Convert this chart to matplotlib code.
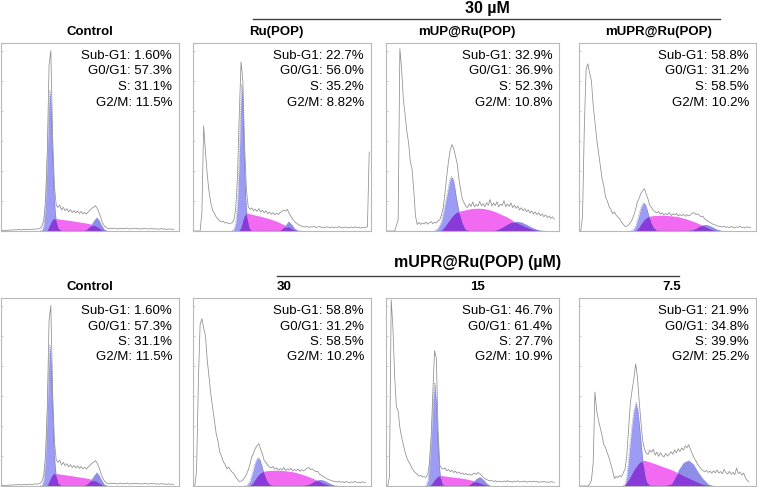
import numpy as np
import matplotlib.pyplot as plt
from matplotlib.lines import Line2D

plt.rcParams['font.family'] = ['Liberation Sans', 'DejaVu Sans']

W, H = 757, 487

phases = ['Sub-G1', 'G0/G1', 'S', 'G2/M']

# gray DNA histograms, % of full scale, one value per channel bin
control_counts = [0.2, 0.3, 0.4, 0.3, 0.5, 0.4, 0.6, 0.5, 0.7, 0.6, 0.8, 0.6, 0.7, 0.9, 0.7, 0.8, 1.0, 0.8, 0.9, 1.1, 1.0, 1.2,
                  1.5, 2.6, 5.5, 16, 42, 88, 96, 50, 24, 14,
                  12.5, 13.8, 11.2, 12.6, 10.8, 11.9, 10.2, 11.4, 9.8, 10.9, 9.6, 10.7, 9.3, 10.4, 9.1, 9.9, 9.0, 10.2,
                  11.0, 12.1, 12.6, 13.5, 12.2, 10.0, 7.2, 4.5, 2.8, 1.8,
                  1.4, 1.1, 1.5, 1.2, 1.6, 1.0, 1.3, 1.5, 1.1, 1.4, 1.2, 1.6, 1.0, 1.3, 1.1, 1.5, 1.2, 1.4, 1.0, 1.3,
                  1.1, 1.5, 1.2, 1.0, 1.4, 1.1, 1.3, 1.0, 1.2, 0.9, 1.3, 1.0, 1.1, 0.8, 1.2, 0.9, 1.0, 0.8]
rupop_counts = [0, 0, 0, 0, 0,
                10, 56, 42, 30, 21, 15, 11, 9.5, 7.5, 6.5, 5.4, 4.8, 5.1, 4.2, 4.6, 3.8, 4.1, 4.4, 6.0, 12, 29,
                62, 90, 80, 45, 22, 13,
                11.5, 12.3, 10.8, 11.6, 10.4, 11.9, 10.1, 11.0, 9.6, 10.8, 9.2, 10.1, 8.9, 9.8, 8.6, 9.5, 8.8,
                9.9, 10.4, 11.2, 10.6, 11.5, 9.4, 7.8, 6.2, 5.1, 4.2, 3.6, 3.0, 2.6, 2.4,
                2.1, 2.5, 1.9, 2.3, 2.0, 2.6, 1.8, 2.2, 2.4, 1.9, 2.1, 1.7, 2.3, 2.0, 1.8, 2.2, 1.6, 2.1, 1.9, 2.4,
                1.7, 2.0, 1.8, 2.2, 1.6, 1.9, 2.1, 1.7, 2.3, 1.8, 2.0, 1.6, 1.9, 1.7, 2.0, 2.2, 42]
mup_counts = [0, 0, 0, 0, 0, 0,
              3, 6, 97, 86, 70, 62, 53, 47, 37, 33, 22, 8,
              3.5, 4.6, 3.5, 4.2, 3.8, 4.8, 3.6, 4.4, 5.0, 3.9, 4.7, 4.2, 5.3, 6.0,
              8.5, 12.5, 20, 29, 37, 43, 46, 44, 40, 36, 28, 22, 17, 15, 13,
              12.5, 14.5, 13, 15.5, 12.8, 14.2, 13.1, 15.8, 13.4, 14.6, 12.9, 15.1, 13.7, 16.8, 13.2, 14.9,
              13.5, 15.6, 12.8, 14.3, 13.6, 16.2, 12.9, 14.4, 13.1, 15.0, 12.4, 13.8, 12.1, 13.3,
              11.2, 12.4, 10.8, 11.9, 10.2, 11.3, 9.6, 10.7, 9.1, 10.2, 8.7, 9.8, 8.2, 9.0, 7.6, 8.6, 7.1, 8.0,
              6.8, 7.5, 6.2]
mupr30_counts = [0, 0, 8, 55, 86, 89, 84, 80, 67, 58, 49, 42, 35, 28, 24, 18, 16, 13, 11.5, 9.2, 10.1, 8.4,
                 7.4, 6.5, 4.8, 3.6, 2.4, 2.6, 3.2, 4.6, 6.0, 8.5, 11.5, 15.5, 17.5, 20, 21.5, 22.5, 19.5, 17,
                 13.5, 12.5, 11, 10.2, 9.6, 10.4, 8.9, 9.7, 8.4, 9.3, 8.6, 9.9, 8.2, 9.1, 8.5, 9.4, 7.9, 8.8,
                 8.1, 9.0, 7.8, 8.7, 8.0, 8.6, 9.5, 9.8, 8.7, 9.1, 8.3, 7.6, 7.9, 6.4, 5.8, 5.1, 4.6, 4.0, 3.4,
                 3.2, 2.8, 2.5, 2.4, 2.1, 2.6, 1.9, 2.3, 1.8, 2.4, 2.0, 1.7, 2.2, 1.9, 2.5, 1.8, 2.1, 1.6, 2.3,
                 1.9, 2.0]
mupr15_counts = [0, 0, 5, 99, 84, 58, 42, 40, 31, 26, 22, 18, 15, 13, 11.5, 9.5, 8, 7, 6.2, 5.3, 5.6, 4.7,
                 5.0, 4.5, 6.0, 12, 26, 50, 72, 68, 30, 11,
                 9.5, 9.0, 9.6, 8.1, 8.8, 7.6, 8.4, 7.2, 7.9, 6.8, 7.5, 6.4, 7.0, 6.1, 6.7, 5.9, 6.4, 5.7, 6.3,
                 6.9, 6.1, 7.2, 6.6, 5.8, 4.6, 3.9, 3.4, 3.0, 2.7,
                 2.9, 2.4, 2.8, 2.2, 2.6, 2.5, 2.1, 2.7, 2.3, 2.9, 2.2, 2.5, 2.0, 2.6, 2.3, 2.8, 2.1, 2.4, 2.2,
                 2.7, 2.0, 2.3, 2.5, 2.1, 2.6, 2.2, 2.4, 1.9, 2.3, 2.1, 2.5, 2.0, 2.2, 1.9, 2.4, 2.1, 2.0]
mupr75_counts = [0, 0, 0, 0, 0, 0, 1, 3, 12, 50, 40, 35, 31, 27, 22, 20.5, 17.5, 15, 11.5, 8, 4,
                 5.2, 4.4, 5.6, 4.8, 7, 9, 16, 30, 44, 51, 57, 65, 58, 45, 34, 24,
                 19.5, 17.5, 16.8, 19.2, 17.9, 19.6, 16.4, 18.1, 15.8, 17.7, 16.2, 15.5, 17.4, 15.9, 16.8,
                 18.3, 16.9, 19.1, 17.6, 19.8, 18.4, 20.2, 19.1, 21.3, 20.4, 22.0, 19.3, 17.2, 15.1, 13.4,
                 11.6, 10.2, 9.1, 8.2, 7.6, 8.3, 7.2, 7.9, 6.8, 8.1, 7.0, 8.6, 6.9, 7.7, 6.5, 8.9, 7.1, 6.4,
                 7.8, 6.2, 7.3, 6.0, 9.5, 6.6, 7.4, 5.8, 6.9, 4.5, 3.0, 2.2]

# fitted components: channel position, G0/G1, S and G2/M heights
control_fit_x = [22, 23, 24, 25, 26, 26.8, 27.5, 28.2, 29, 30, 31, 32, 34, 38, 42, 46, 48, 50, 52, 53.7, 55, 56.5, 58, 60]
control_g1 = [0, 0.5, 3, 14, 40, 65, 75, 65, 40, 16, 5, 1.5, 0, 0, 0, 0, 0, 0, 0, 0, 0, 0, 0, 0]
control_s = [0, 0, 0, 0, 0.5, 2, 3.5, 5, 6.2, 6.8, 6.7, 6.5, 6.2, 5.7, 5.1, 4.5, 4.2, 3.8, 3.1, 2.4, 1.6, 0.7, 0.1, 0]
control_g2 = [0, 0, 0, 0, 0, 0, 0, 0, 0, 0, 0, 0, 0, 0, 0, 0, 0.8, 2.5, 5.5, 7.5, 6.0, 3.2, 1.0, 0]

rupop_fit_x = [22, 23, 24, 25, 26, 26.7, 27.4, 28.1, 28.8, 29.6, 30.5, 31.5, 33, 38, 43, 47, 49, 51, 53.6, 55.5, 57, 59, 61]
rupop_g1 = [0, 1, 4, 15, 40, 66, 78, 66, 40, 18, 6, 1.5, 0, 0, 0, 0, 0, 0, 0, 0, 0, 0, 0]
rupop_s = [0, 0, 0, 0, 0.5, 1.5, 3.5, 6, 8, 9.3, 9.5, 9.3, 8.9, 7.8, 6.5, 5.2, 4.3, 3.4, 2.2, 1.2, 0.5, 0, 0]
rupop_g2 = [0, 0, 0, 0, 0, 0, 0, 0, 0, 0, 0, 0, 0, 0, 0, 0, 0.3, 2.0, 5.3, 3.5, 1.5, 0.3, 0]

mup_fit_x = [28, 30, 32, 34, 35.5, 36.7, 37.7, 38.7, 39.6, 40.5, 41.5, 42.5, 43.5, 45.4, 48, 50, 53, 56, 60,
             63.7, 66, 69.4, 72, 75, 78, 81, 84, 86.7, 89, 92]
mup_g1 = [0, 1.5, 5, 14, 21, 27, 29, 27.5, 23.6, 18, 13, 8.5, 5, 1, 0, 0, 0, 0, 0,
          0, 0, 0, 0, 0, 0, 0, 0, 0, 0, 0]
mup_s = [0, 0, 0.5, 2.5, 4.5, 6, 7.3, 8.4, 9.2, 9.8, 10.3, 10.6, 10.8, 11.2, 11.7, 12, 12.1, 12, 11.2,
         10, 9, 7.6, 6.2, 4.5, 3.2, 2, 1.0, 0.4, 0, 0]
mup_g2 = [0, 0, 0, 0, 0, 0, 0, 0, 0, 0, 0, 0, 0, 0, 0, 0, 0, 0, 0,
          0.5, 1.5, 3.3, 4.6, 5.2, 4.8, 3.5, 2.0, 1.0, 0.4, 0]

mupr30_fit_x = [29, 30.5, 32, 33, 34, 34.8, 35.8, 36.7, 37.6, 38.6, 39.5, 40.4, 41.4, 42.3, 44, 47, 52, 56, 60,
                64, 66, 68, 70, 71.3, 73, 75, 77, 79, 81]
mupr30_g1 = [0, 0.5, 2.5, 5.9, 9, 12, 14.3, 15, 14, 11, 8, 5, 2.8, 1.4, 0.2, 0, 0, 0, 0,
             0, 0, 0, 0, 0, 0, 0, 0, 0, 0]
mupr30_s = [0, 0, 0.3, 1.0, 2.2, 3.4, 4.8, 5.8, 6.7, 7.3, 7.7, 8.0, 8.1, 8.2, 8.3, 8.4, 8.1, 7.6, 6.6,
            5.3, 4.6, 3.8, 2.9, 2.3, 1.5, 0.8, 0.3, 0, 0]
mupr30_g2 = [0, 0, 0, 0, 0, 0, 0, 0, 0, 0, 0, 0, 0, 0, 0, 0, 0, 0, 0,
             0.6, 1.3, 2.5, 3.3, 3.5, 3.2, 2.4, 1.4, 0.6, 0.1]

mupr15_fit_x = [23, 24.2, 25.2, 26.2, 27.1, 28.1, 29, 29.8, 30.6, 31.5, 32.5, 34, 38, 42, 46, 48, 50, 52, 54, 56, 58, 60]
mupr15_g1 = [0, 3, 13.5, 27.7, 46, 55, 45, 26, 12, 4, 0.8, 0, 0, 0, 0, 0, 0, 0, 0, 0, 0, 0]
mupr15_s = [0, 0, 0.3, 1.0, 2.2, 3.4, 4.4, 5.1, 5.5, 5.6, 5.5, 5.3, 4.8, 4.4, 3.8, 3.4, 2.9, 2.3, 1.6, 0.9, 0.3, 0]
mupr15_g2 = [0, 0, 0, 0, 0, 0, 0, 0, 0, 0, 0, 0, 0, 0, 0, 0.6, 2.0, 4.0, 5.0, 3.6, 1.5, 0.3]

mupr75_fit_x = [25, 26, 27, 28, 29, 30, 31, 32.2, 33.3, 34.3, 35.4, 36.3, 37.3, 38.3, 40, 44, 48,
                52.4, 54.6, 56.1, 58.9, 61.8, 64.6, 67.4, 70.2, 73.1, 76]
mupr75_g1 = [0, 1, 5, 14, 24, 33, 40, 44.5, 40, 31, 20, 11, 5, 1.8, 0.3, 0, 0,
             0, 0, 0, 0, 0, 0, 0, 0, 0, 0]
mupr75_s = [0, 0.8, 2.0, 3.5, 5.0, 6.8, 8.5, 10.2, 11.6, 12.6, 13.3, 13.7, 13.6, 13.3, 12.8, 11.5, 10.1,
            8.6, 7.6, 6.9, 5.5, 4.3, 3.0, 1.8, 0.8, 0.2, 0]
mupr75_g2 = [0, 0, 0, 0, 0, 0, 0, 0, 0, 0, 0, 0, 0, 0, 0, 0, 0,
             1.2, 5, 8.5, 12.5, 13.8, 11.7, 7.3, 3.7, 1.0, 0.1]

control_pct = ['1.60%', '57.3%', '31.1%', '11.5%']
rupop_pct = ['22.7%', '56.0%', '35.2%', '8.82%']
mup_pct = ['32.9%', '36.9%', '52.3%', '10.8%']
mupr30_pct = ['58.8%', '31.2%', '58.5%', '10.2%']
mupr15_pct = ['46.7%', '61.4%', '27.7%', '10.9%']
mupr75_pct = ['21.9%', '34.8%', '39.9%', '25.2%']

BLUE = '#9c9cf4'
BLUE2 = '#8e8ee8'
MAGENTA = '#f26af2'
PURPLE = '#8a3ad8'


def px_rect(x0, y0, x1, y1):
    return [x0 / W, 1 - y1 / H, (x1 - x0) / W, (y1 - y0) / H]


def fpos(x, y):
    return x / W, 1 - y / H


def draw_panel(ax, counts, fit_x, g1, s, g2, pct):
    fit_x = np.asarray(fit_x, float)
    g1, s, g2 = np.asarray(g1, float), np.asarray(s, float), np.asarray(g2, float)
    ax.fill_between(fit_x, 0, s, color=MAGENTA, lw=0)
    ax.fill_between(fit_x, 0, g1, color=BLUE, lw=0)
    ax.fill_between(fit_x, 0, g2, color=BLUE2, lw=0)
    ax.fill_between(fit_x, 0, np.minimum(s, np.maximum(g1, g2)), color=PURPLE, lw=0)
    ax.plot(fit_x, g1, color='#505078', lw=0.4, ls=(0, (2, 2)), alpha=0.7)
    ax.plot(np.arange(len(counts)), counts, color='#8e8e8e', lw=0.55)
    ax.set_xlim(0, 100)
    ax.set_ylim(0, 100)
    ax.set_xticks([])
    ax.set_yticks([16, 32, 48, 64, 80, 96])
    ax.tick_params(axis='y', direction='in', length=1.5, width=0.6, color='#c4c4c4', labelleft=False)
    for sp in ax.spines.values():
        sp.set_color('#b8b8b8')
        sp.set_linewidth(0.8)
    for i, (ph, p) in enumerate(zip(phases, pct)):
        ax.annotate(f'{ph}: {p}', xy=(1, 1), xycoords='axes fraction',
                    xytext=(-7, -13 - 15.5 * i), textcoords='offset pixels',
                    ha='right', va='center', fontsize=9.5)


fig = plt.figure(figsize=(W / 100, H / 100), dpi=100)

cols = [(1, 179), (193, 371), (386, 559.5), (579, 756)]
rows = [(43, 231), (298, 486)]

top = [
    (control_counts, control_fit_x, control_g1, control_s, control_g2, control_pct),
    (rupop_counts, rupop_fit_x, rupop_g1, rupop_s, rupop_g2, rupop_pct),
    (mup_counts, mup_fit_x, mup_g1, mup_s, mup_g2, mup_pct),
    (mupr30_counts, mupr30_fit_x, mupr30_g1, mupr30_s, mupr30_g2, mupr30_pct),
]
bottom = [
    (control_counts, control_fit_x, control_g1, control_s, control_g2, control_pct),
    (mupr30_counts, mupr30_fit_x, mupr30_g1, mupr30_s, mupr30_g2, mupr30_pct),
    (mupr15_counts, mupr15_fit_x, mupr15_g1, mupr15_s, mupr15_g2, mupr15_pct),
    (mupr75_counts, mupr75_fit_x, mupr75_g1, mupr75_s, mupr75_g2, mupr75_pct),
]

for (y0, y1), row in zip(rows, [top, bottom]):
    for (x0, x1), data in zip(cols, row):
        ax = fig.add_axes(px_rect(x0, y0, x1, y1))
        draw_panel(ax, *data)

# panel titles
bold = dict(fontsize=9.5, fontweight='bold', va='center')
for label, x in [('Control', 90), ('Ru(POP)', 276), ('mUP@Ru(POP)', 467), ('mUPR@Ru(POP)', 659)]:
    fig.text(*fpos(x, 32), label, ha='center', **bold)
fig.text(*fpos(90, 287), 'Control', ha='center', **bold)
fig.text(*fpos(277, 287), '30', ha='left', **bold)
fig.text(*fpos(477.5, 287), '15', ha='center', **bold)
fig.text(*fpos(672, 287), '7.5', ha='center', **bold)

# group headers
fig.text(*fpos(487, 8), '30 µM', ha='center', va='center', fontsize=11.5, fontweight='bold')
fig.add_artist(Line2D([253 / W, 720 / W], [1 - 19 / H] * 2, color='#404040', lw=1))
fig.text(*fpos(478, 263), 'mUPR@Ru(POP) (µM)', ha='center', va='center', fontsize=11.5, fontweight='bold')
fig.add_artist(Line2D([277 / W, 679 / W], [1 - 276 / H] * 2, color='#404040', lw=1))

fig.savefig('out.png', dpi=100, facecolor='white')
